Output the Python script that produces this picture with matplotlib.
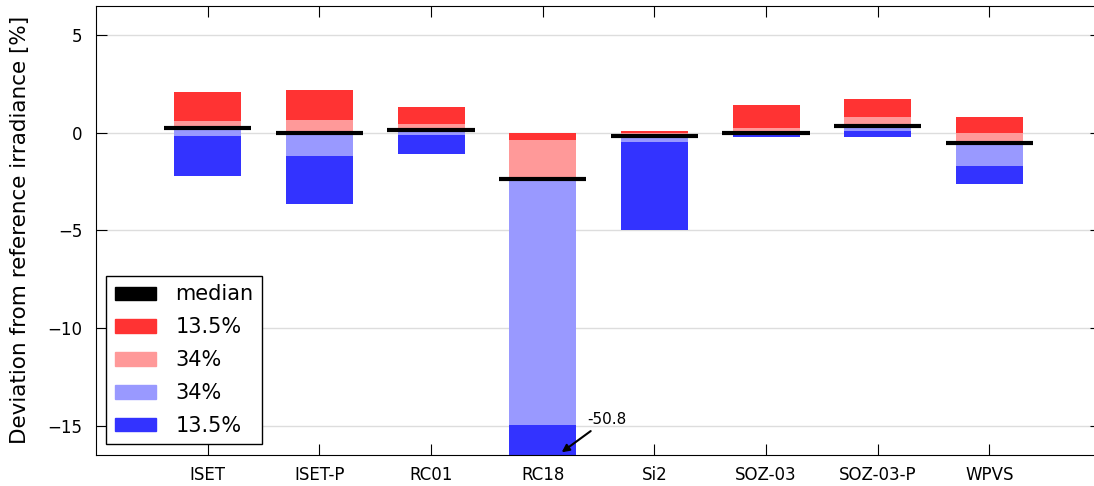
import numpy as np
import matplotlib.pyplot as plt
from matplotlib.patches import Patch

# Instruments
names = ["ISET", "ISET-P", "RC01", "RC18", "Si2", "SOZ-03", "SOZ-03-P", "WPVS"]

# Percentile bounds of deviation [%]: 2.5, 16, median, 84, 97.5
p025 = [-2.21, -3.64, -1.07, -50.8, -5.00, -0.24, -0.24, -2.60]
p16 = [-0.19, -1.17, -0.10, -14.95, -0.47, -0.10, 0.07, -1.68]
median = [0.25, -0.03, 0.15, -2.35, -0.19, -0.02, 0.36, -0.53]
p84 = [0.58, 0.66, 0.44, -0.39, -0.02, 0.24, 0.82, -0.02]
p975 = [2.07, 2.19, 1.31, -0.02, 0.09, 1.43, 1.75, 0.82]

x = np.arange(1, len(names) + 1)
p025, p16, median, p84, p975 = map(np.array, (p025, p16, median, p84, p975))

fig = plt.figure(figsize=(10.94, 4.86), dpi=100)
ax = fig.add_axes([0.0878, 0.064, 0.9186, 0.924])

w = 0.6
ax.bar(x, p975 - p84, w, bottom=p84, color="#ff3333", edgecolor="none", zorder=2)
ax.bar(x, p84 - median, w, bottom=median, color="#ff9999", edgecolor="none", zorder=2)
ax.bar(x, median - p16, w, bottom=p16, color="#9999ff", edgecolor="none", zorder=2)
ax.bar(x, p16 - p025, w, bottom=p025, color="#3333ff", edgecolor="none", zorder=2)
ax.hlines(median, x - 0.39, x + 0.39, colors="k", linewidth=3, zorder=3)

# RC18 lower bound is off the chart
ax.annotate("%.1f" % p025[3], xy=(4.15, -16.45), xytext=(4.4, -14.9),
            fontsize=11, arrowprops=dict(arrowstyle="-|>", color="k", lw=1.5),
            zorder=4)

ax.set_xlim(0, 9)
ax.set_ylim(-16.5, 6.5)
ax.set_xticks(x)
ax.set_xticklabels(names, fontsize=12)
ax.set_yticks([5, 0, -5, -10, -15])
ax.tick_params(direction="in", length=8, top=True, right=True)
ax.tick_params(axis="x", pad=8)
ax.tick_params(axis="y", labelsize=12, pad=10)
ax.yaxis.grid(True, color="#dddddd", linewidth=1, zorder=0)
ax.set_axisbelow(True)
ax.set_ylabel("Deviation from reference irradiance [%]", fontsize=15.5, labelpad=12)

handles = [Patch(color="k", label="median"),
           Patch(color="#ff3333", label="13.5%"),
           Patch(color="#ff9999", label="34%"),
           Patch(color="#9999ff", label="34%"),
           Patch(color="#3333ff", label="13.5%")]
leg = ax.legend(handles=handles, loc="lower left", fontsize=15, fancybox=False,
                edgecolor="k", framealpha=1, handlelength=2.0, handleheight=0.6,
                labelspacing=0.62, borderaxespad=0.5, handletextpad=0.9)
leg.get_frame().set_linewidth(1)

fig.savefig("out.png", dpi=100)
